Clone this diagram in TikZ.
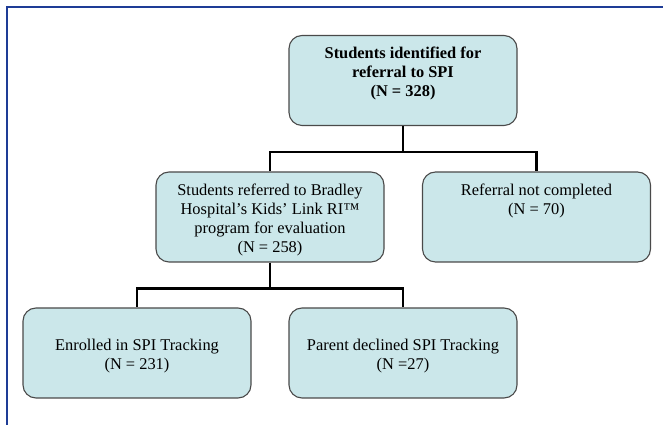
\documentclass[tikz,border=0pt]{standalone}
\usepackage{fontspec}
\setmainfont{Liberation Serif}
\usepackage{tikz}
\usepackage[svgnames]{xcolor}
\usetikzlibrary{positioning}
\definecolor{boxfill}{HTML}{CBE7EA}
\definecolor{boxline}{HTML}{4A4A4A}
\definecolor{mblue}{HTML}{1E3C96}
\tikzset{flowbox/.style = {draw=boxline, fill=boxfill, line width=1.1pt, rounded corners=13pt,
    minimum width=228pt, minimum height=90pt, inner sep=0}}
\tikzset{flowtxt/.style = {align=center, inner sep=0, font=\fontsize{16.4}{19}\selectfont}}
\tikzset{link/.style = {draw=black, line width=2.6pt}}

\begin{document}
\begin{tikzpicture}[x=1pt,y=1pt]
    \useasboundingbox (0,0) rectangle (663,425);
    \draw[mblue, line width=1.8pt] (7,0) -- (7,418) -- (663,418);

    \node[flowbox] (ident) at (403,344.5) {};
    \node[flowbox] (referred) at (270,208) {};
    \node[flowbox] (notdone) at (536.5,208) {};
    \node[flowbox] (enrolled) at (137,72) {};
    \node[flowbox] (declined) at (403,72) {};

    \node[flowtxt, font=\fontsize{16.4}{19}\selectfont\bfseries, below=11.5pt of ident.north]
      (identtxt) {Students identified for\\referral to SPI\\(N = 328)};
    \node[flowtxt, below=12pt of referred.north]
      (referredtxt) {Students referred to Bradley\\Hospital’s Kids’ Link RI™\\program for evaluation\\(N = 258)};
    \node[flowtxt, below=12pt of notdone.north]
      (notdonetxt) {Referral not completed\\(N = 70)};
    \node[flowtxt, yshift=-3pt] (enrolledtxt) at (enrolled.center)
      {Enrolled in SPI Tracking\\(N = 231)};
    \node[flowtxt, yshift=-3pt] (declinedtxt) at (declined.center)
      {Parent declined SPI Tracking\\(N =27)};

    \draw[link] (ident.south) -- ++(0,-26) -| (referred.north);
    \draw[link] (ident.south) -- ++(0,-26) -| (notdone.north);
    \draw[link] (referred.south) -- ++(0,-26) -| (enrolled.north);
    \draw[link] (referred.south) -- ++(0,-26) -| (declined.north);
\end{tikzpicture}
\end{document}
